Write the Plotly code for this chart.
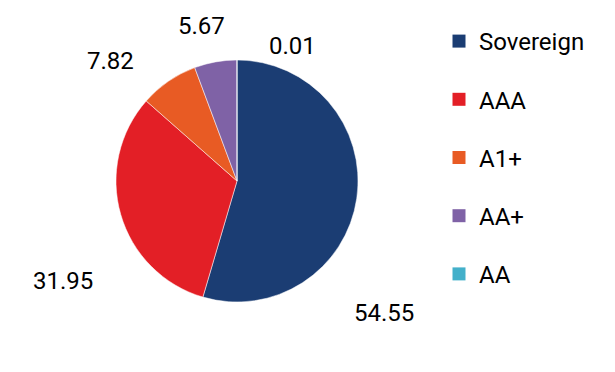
import plotly.graph_objects as go

categories = ["Sovereign", "AAA", "A1+", "AA+", "AA"]
values = [54.55, 31.95, 7.82, 5.67, 0.01]
colors = ["#1b3d73", "#e31f26", "#e85b24", "#7f62a6", "#43b0ca"]

W, H = 615, 372
OFF = 8  # page body margin of the exported html
# pie geometry (pixels in the page)
CX, CY, R = 237 - OFF, 181 - OFF, 121
# label centres (pixels in the page), layout only
LABEL_POS = [(384, 313), (63, 281), (110, 61), (201, 26), (292, 46)]

FONT = "Roboto"

fig = go.Figure()
fig.add_trace(go.Pie(
    labels=categories,
    values=values,
    marker=dict(colors=colors, line=dict(color="white", width=0.5)),
    sort=False,
    direction="clockwise",
    rotation=0,
    textinfo="none",
    hoverinfo="label+value",
    showlegend=False,
    domain=dict(x=[(CX - R) / W, (CX + R) / W],
                y=[(H - CY - R) / H, (H - CY + R) / H]),
))

# legend entries (one group per category for spacing)
for i, (cat, col) in enumerate(zip(categories, colors)):
    fig.add_trace(go.Scatter(
        x=[None], y=[None], mode="markers", name=cat,
        marker=dict(symbol="square", size=13, color=col),
        legendgroup=f"g{i}", showlegend=True, hoverinfo="skip",
    ))

annotations = []
for v, (px, py) in zip(values, LABEL_POS):
    annotations.append(dict(
        x=(px - OFF) / W, y=1 - (py - OFF) / H, xref="paper", yref="paper",
        text=f"{v:.2f}", showarrow=False, xanchor="center", yanchor="middle",
        font=dict(family=FONT, size=24, color="#000000"),
    ))

fig.update_layout(
    width=W, height=H,
    margin=dict(l=0, r=0, t=0, b=0),
    paper_bgcolor="white", plot_bgcolor="white",
    xaxis=dict(visible=False), yaxis=dict(visible=False),
    showlegend=True,
    legend=dict(x=(439 - OFF) / W, y=1 - (19 - OFF) / H, xanchor="left", yanchor="top",
                font=dict(family=FONT, size=24, color="#000000"),
                tracegroupgap=24, itemclick=False, itemdoubleclick=False),
    annotations=annotations,
)

fig.write_html("out.html")
